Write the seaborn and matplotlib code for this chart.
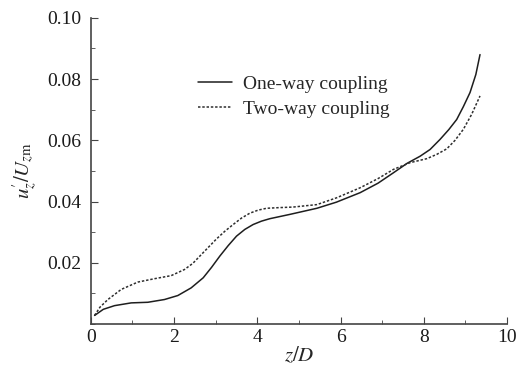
import numpy as np
import pandas as pd
import matplotlib
matplotlib.use('Agg')
import matplotlib.pyplot as plt
import seaborn as sns
from matplotlib.ticker import MultipleLocator

# values
z_one = [0.09, 0.3, 0.57, 0.97, 1.37, 1.77, 2.09, 2.41, 2.70, 2.9, 3.10, 3.30, 3.50, 3.70,
         3.90, 4.10, 4.30, 4.78, 5.43, 5.9, 6.47, 6.9, 7.27, 7.6, 7.91, 8.15, 8.39, 8.6,
         8.79, 8.95, 9.11, 9.25, 9.35]
u_one = [0.0028, 0.0048, 0.0060, 0.0069, 0.0071, 0.0080, 0.0093, 0.0118, 0.0151, 0.0185,
         0.0222, 0.0256, 0.0287, 0.0309, 0.0325, 0.0336, 0.0344, 0.0358, 0.0378, 0.0398,
         0.0429, 0.0460, 0.0494, 0.0525, 0.0548, 0.0570, 0.0603, 0.0635, 0.0668, 0.0710,
         0.0756, 0.0815, 0.0880]

z_two = [0.09, 0.22, 0.41, 0.73, 1.13, 1.53, 1.93, 2.25, 2.45, 2.62, 2.82, 3.02, 3.22,
         3.42, 3.62, 3.82, 4.02, 4.22, 4.5, 4.86, 5.43, 5.9, 6.47, 6.9, 7.27, 7.67, 8.07,
         8.31, 8.55, 8.75, 8.95, 9.15, 9.35]
u_two = [0.0028, 0.0055, 0.0080, 0.0113, 0.0137, 0.0148, 0.0158, 0.0178, 0.0198, 0.0222,
         0.0250, 0.0278, 0.0303, 0.0325, 0.0346, 0.0362, 0.0372, 0.0378, 0.0380, 0.0382,
         0.0390, 0.0412, 0.0445, 0.0475, 0.0505, 0.0527, 0.0540, 0.0554, 0.0572, 0.0600,
         0.0636, 0.0685, 0.0745]

labels = ['One-way coupling', 'Two-way coupling']

sns.set_style('ticks')
plt.rcParams['font.family'] = ['Liberation Serif', 'DejaVu Serif']
plt.rcParams['mathtext.fontset'] = 'stix'

df_one = pd.DataFrame({'z': z_one, 'u': u_one})
df_two = pd.DataFrame({'z': z_two, 'u': u_two})

fig = plt.figure(figsize=(5.19, 3.72), dpi=100)
ax = fig.add_axes([0.175, 0.129, 0.802, 0.823])

sns.lineplot(data=df_one, x='z', y='u', ax=ax, color='#1e1e1e', lw=1.1,
             label=labels[0], sort=False)
sns.lineplot(data=df_two, x='z', y='u', ax=ax, color='#2e2e2e', lw=1.1,
             linestyle=(0, (1.6, 1.2)), label=labels[1], sort=False)

ax.set_xlim(0, 10)
ax.set_ylim(0, 0.10)
ax.xaxis.set_major_locator(MultipleLocator(2))
ax.xaxis.set_minor_locator(MultipleLocator(1))
ax.yaxis.set_minor_locator(MultipleLocator(0.01))
ax.set_yticks([0.02, 0.04, 0.06, 0.08, 0.10])
ax.set_yticklabels(['0.02', '0.04', '0.06', '0.08', '0.10'])
ax.tick_params(which='both', direction='in', color='#444444', labelsize=14,
               labelcolor='#1a1a1a')
ax.tick_params(which='major', length=5)
ax.tick_params(which='minor', length=3)
ax.tick_params(axis='y', pad=7)
sns.despine(ax=ax)
for s in ['left', 'bottom']:
    ax.spines[s].set_color('#444444')
    ax.spines[s].set_linewidth(1.2)

ax.set_xlabel('$z/D$', fontsize=15, labelpad=0)
ax.set_ylabel("$u_z'/U_{z\\mathrm{m}}$", fontsize=15, labelpad=6)

ax.legend(loc='upper left', bbox_to_anchor=(0.215, 0.87), frameon=False,
          fontsize=14, handlelength=1.75, handletextpad=0.55, labelspacing=0.4)

fig.savefig('out.png', dpi=100)
